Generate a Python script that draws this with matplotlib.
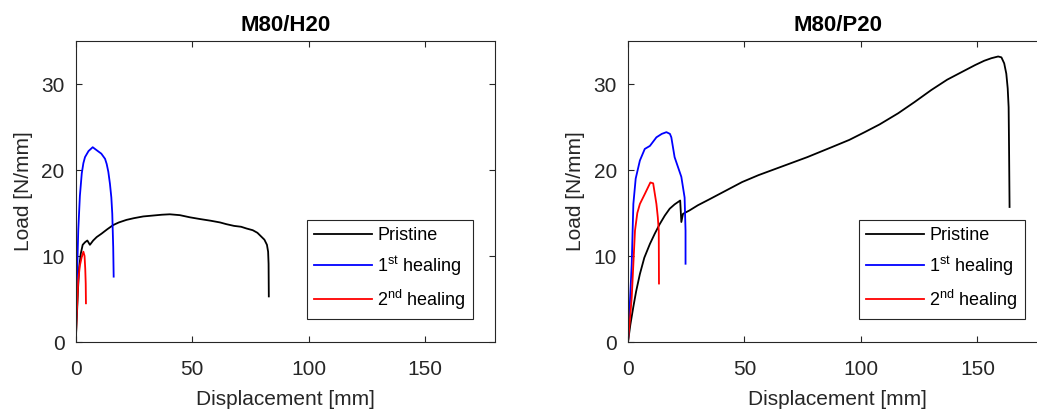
import matplotlib
matplotlib.use("Agg")
import matplotlib.pyplot as plt

plt.rcParams['font.family'] = ['Liberation Sans', 'DejaVu Sans']
plt.rcParams['mathtext.fontset'] = 'custom'
plt.rcParams['mathtext.rm'] = 'Liberation Sans'

# M80/H20
h20_pristine_x = [0, 0.5, 1.0, 1.5, 2.2, 3.0, 4.0, 5.0, 6.1, 7.5, 9.0, 11.1, 13.5, 16.1, 18.5, 21.8,
                  25.0, 29.0, 33.0, 37.0, 40.4, 44.7, 49.0, 53.3, 58.0, 62.0, 64.7, 68.0, 71.0,
                  73.3, 76.0, 78.0, 79.5, 81.0, 82.1, 82.6, 82.8, 82.9]
h20_pristine_y = [0, 3.0, 6.2, 8.7, 10.3, 11.3, 11.6, 11.8, 11.3, 11.8, 12.2, 12.6, 13.1, 13.6, 13.9, 14.2,
                  14.4, 14.6, 14.7, 14.8, 14.85, 14.75, 14.5, 14.3, 14.1, 13.9, 13.7, 13.5, 13.4,
                  13.2, 13.0, 12.7, 12.3, 11.9, 11.3, 10.5, 9.1, 5.3]
h20_heal1_x = [0, 0.5, 1.1, 1.8, 2.6, 3.3, 4.0, 5.5, 7.3, 9.0, 11.0, 12.6, 13.3, 14.0, 14.7, 15.3,
               15.7, 16.1, 16.3]
h20_heal1_y = [0, 7.0, 13.0, 17.0, 19.6, 20.8, 21.5, 22.2, 22.65, 22.3, 21.9, 21.3, 20.7, 19.8, 18.4,
               16.8, 14.9, 11.05, 7.6]
h20_heal2_x = [0, 0.5, 1.1, 1.8, 2.6, 3.3, 3.8, 4.1, 4.3, 4.4]
h20_heal2_y = [0, 3.5, 7.2, 8.9, 9.9, 10.5, 10.0, 8.5, 6.8, 4.5]

# M80/P20
p20_pristine_x = [0, 1.0, 2.3, 3.5, 5.1, 7.0, 9.4, 11.5, 13.6, 15.8, 17.9, 20.0, 22.4, 22.9, 23.6,
                  26.4, 30.0, 35.0, 42.0, 49.0, 56.0, 63.0, 70.0, 77.0, 87.4, 95.0, 101.6, 108.0,
                  116.0, 123.0, 130.2, 137.0, 144.4, 149.0, 152.9, 156.0, 158.9, 160.3, 161.5,
                  162.4, 163.0, 163.4, 163.6, 163.8]
p20_pristine_y = [0, 2.0, 4.1, 5.9, 7.9, 9.8, 11.4, 12.6, 13.7, 14.7, 15.5, 16.0, 16.45, 13.95, 14.9,
                  15.3, 15.9, 16.6, 17.6, 18.6, 19.4, 20.1, 20.8, 21.5, 22.65, 23.5, 24.4, 25.3,
                  26.6, 27.9, 29.3, 30.5, 31.55, 32.2, 32.7, 33.0, 33.2, 33.1, 32.4, 31.2, 29.5,
                  27.3, 22.0, 15.7]
p20_heal1_x = [0, 0.8, 1.6, 2.3, 3.3, 5.1, 7.2, 9.4, 12.2, 14.5, 16.5, 18.0, 18.6, 20.0, 22.9, 24.3,
               24.7, 24.7]
p20_heal1_y = [0, 4.5, 9.1, 16.05, 19.0, 21.1, 22.45, 22.8, 23.8, 24.2, 24.4, 24.2, 23.8, 21.5, 19.2,
               16.8, 12.95, 9.1]
p20_heal2_x = [0, 0.8, 1.6, 3.0, 4.0, 5.1, 7.2, 9.6, 10.8, 12.2, 12.8, 13.2, 13.3]
p20_heal2_y = [0, 2.5, 5.2, 12.95, 15.0, 16.05, 17.2, 18.55, 18.45, 16.05, 14.5, 12.95, 6.8]

titles = ["M80/H20", "M80/P20"]
labels = ["Pristine", "1$^{\\mathrm{st}}$ healing", "2$^{\\mathrm{nd}}$ healing"]
colors = ["black", "blue", "red"]

panels = [
    [(h20_pristine_x, h20_pristine_y), (h20_heal1_x, h20_heal1_y), (h20_heal2_x, h20_heal2_y)],
    [(p20_pristine_x, p20_pristine_y), (p20_heal1_x, p20_heal1_y), (p20_heal2_x, p20_heal2_y)],
]

W, H = 1037, 412
fig = plt.figure(figsize=(W / 100, H / 100), dpi=100)
ax_w = 419.3 / W
ax_h = 301 / H
lefts = [75.7 / W, 628 / W]
bottom = 70 / H

txt = '#262626'
for i, series in enumerate(panels):
    ax = fig.add_axes([lefts[i], bottom, ax_w, ax_h])
    for (x, y), c, lab in zip(series, colors, labels):
        ax.plot(x, y, color=c, lw=1.3, label=lab)
    ax.set_xlim(0, 180)
    ax.set_ylim(0, 35)
    ax.set_xticks([0, 50, 100, 150])
    ax.set_yticks([0, 10, 20, 30])
    ax.tick_params(direction='in', top=True, right=True, length=4, width=0.8,
                   colors=txt, labelsize=15)
    ax.tick_params(axis='x', pad=13)
    ax.tick_params(axis='y', pad=8)
    for s in ax.spines.values():
        s.set_color(txt)
        s.set_linewidth(0.8)
    if i == 1:
        # right panel is cut off by the figure edge
        ax.spines['right'].set_visible(False)
    ax.set_xlabel("Displacement [mm]", fontsize=15, color=txt, labelpad=8)
    ax.set_ylabel("Load [N/mm]", fontsize=15, color=txt, labelpad=6)
    ax.set_title(titles[i], fontsize=16, fontweight='bold', pad=7)
    leg = ax.legend(loc='lower right', bbox_to_anchor=(1 - 22 / 419.3, 23 / 301),
                    borderaxespad=0, fontsize=13, handlelength=3.2, fancybox=False,
                    edgecolor=txt, framealpha=1, labelspacing=0.55, borderpad=0.4,
                    handletextpad=0.3)
    leg.get_frame().set_linewidth(0.8)

fig.savefig("out.png", dpi=100)
